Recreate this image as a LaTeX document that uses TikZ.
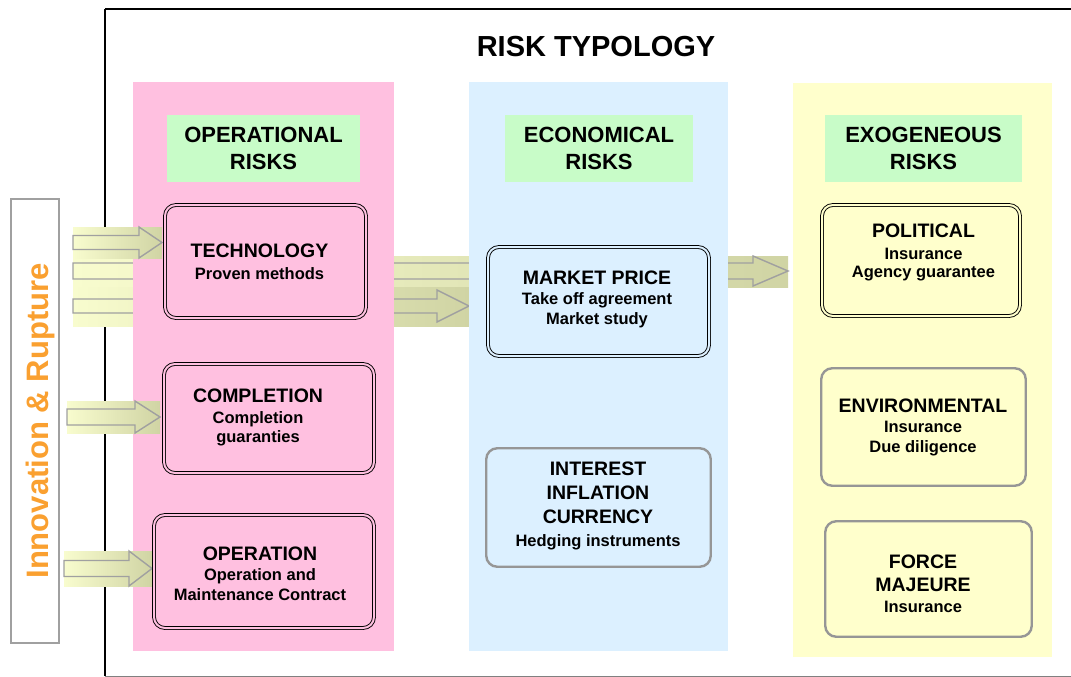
\documentclass[tikz,border=0pt]{standalone}
\usepackage{fontspec}
\setmainfont{Liberation Sans}
\usetikzlibrary{calc}
\definecolor{pinkc}{RGB}{255,192,224}
\definecolor{bluec}{RGB}{220,240,255}
\definecolor{yellowc}{RGB}{255,255,204}
\definecolor{greenc}{RGB}{200,252,200}
\definecolor{arrpale}{RGB}{248,252,206}
\definecolor{arrolive}{RGB}{208,212,164}
\definecolor{arrgray}{RGB}{160,160,160}
\definecolor{boxgray}{RGB}{150,150,150}
\definecolor{orangec}{RGB}{250,160,48}
\newcommand\bxtitle{\fontsize{19.5}{20}\selectfont}
\tikzset{
  dblbox/.style={rectangle, rounded corners=11pt, draw=black, line width=0.9pt,
    double distance=2pt, inner sep=0pt},
  graybox/.style={rectangle, rounded corners=11pt, draw=boxgray, line width=2.4pt, inner sep=0pt},
  boxtxt/.style={align=center, inner sep=0pt, font=\bfseries\fontsize{16.5}{20}\selectfont},
  hdr/.style={fill=greenc, inner sep=0pt, align=center,
    font=\bfseries\fontsize{22}{27}\selectfont},
  arrline/.style={draw=arrgray, line width=1.4pt, line join=miter}
}
% tail, tip, shaft half-width, head half-width, head length, background top, background bottom
\newcommand\blockarrow[7]{%
  \shade[left color=arrpale, right color=arrolive] let \p1=(#1), \p2=(#2) in
    (\x1,{\y1+#6}) rectangle (\x2,{\y1-#7});
  \draw[arrline] let \p1=(#1), \p2=(#2) in
    (\x1,{\y1+#3}) -- ({\x2-#5},{\y1+#3}) -- ({\x2-#5},{\y1+#4}) -- (\x2,\y2)
    -- ({\x2-#5},{\y1-#4}) -- ({\x2-#5},{\y1-#3}) -- (\x1,{\y1-#3}) -- cycle;
}
\begin{document}
\begin{tikzpicture}[x=1pt,y=-1pt]
\clip (0,0) rectangle (1071,677);
\fill[white] (0,0) rectangle (1071,677);
% frame
\draw[black, line width=1.3pt] (105,676) -- (105,9);
\draw[black, line width=1.8pt] (105,9) -- (1080,9);
\draw[gray, line width=1pt] (105,676) -- (1080,676);
% title
\node[font=\bfseries\fontsize{29}{30}\selectfont, inner sep=0pt] (title) at (596,47) {RISK TYPOLOGY};
% arrow coordinates
\coordinate (bS) at (73,271);   \coordinate (bE) at (788,271);
\coordinate (cS) at (73,306);   \coordinate (cE) at (469,306);
\coordinate (aS) at (73,242.5); \coordinate (aE) at (162,242.5);
\coordinate (dS) at (67,417);   \coordinate (dE) at (160,417);
\coordinate (eS) at (64,568.5); \coordinate (eE) at (152,568.5);
% long arrows (behind columns)
\blockarrow{bS}{bE}{8pt}{15pt}{35pt}{15pt}{16pt}
\blockarrow{cS}{cE}{7pt}{16pt}{32pt}{19pt}{20pt}
% columns
\fill[pinkc] (133,82) rectangle (394,651);
\fill[bluec] (469,82) rectangle (728,651);
\fill[yellowc] (793,83) rectangle (1052,657);
% innovation box
\node[draw=arrgray, fill=white, line width=1.5pt, minimum width=48pt, minimum height=444pt, inner sep=0pt] (innovbox) at (35,421) {};
\node[rotate=90, text=orangec, font=\bfseries\fontsize{31}{31}\selectfont, inner sep=0pt] (innov) at (40,421) {Innovation \& Rupture};
% short arrows
\blockarrow{aS}{aE}{7pt}{15.5pt}{23pt}{15.5pt}{15.5pt}
\blockarrow{dS}{dE}{8pt}{16pt}{25pt}{16pt}{16pt}
\blockarrow{eS}{eE}{8pt}{17.5pt}{23pt}{17.5pt}{17.5pt}
% headers
\node[hdr, minimum width=193pt, minimum height=67pt] (ophdr) at (263.5,148.5) {OPERATIONAL\\RISKS};
\node[hdr, minimum width=188pt, minimum height=67pt] (echdr) at (599,148.5) {ECONOMICAL\\RISKS};
\node[hdr, minimum width=197pt, minimum height=67pt] (exhdr) at (923.5,148.5) {EXOGENEOUS\\RISKS};
% boxes
\node[dblbox, double=pinkc, minimum width=201pt, minimum height=113pt] (tech) at (265.5,261.5) {};
\node[boxtxt] (techtxt) at (259.5,261.5) {{\bxtitle TECHNOLOGY}\\[2pt]Proven methods};
\node[dblbox, double=pinkc, minimum width=210pt, minimum height=109pt] (comp) at (269,418.5) {};
\node[boxtxt] (comptxt) at (258,417.5) {{\bxtitle COMPLETION}\\[1pt]Completion\\[-1pt]guaranties};
\node[dblbox, double=pinkc, minimum width=220pt, minimum height=113pt] (oper) at (264,571.5) {};
\node[boxtxt] (opertxt) at (260,573.5) {{\bxtitle OPERATION}\\Operation and\\Maintenance Contract};
\node[dblbox, double=bluec, minimum width=221pt, minimum height=109pt] (market) at (598.5,301.5) {};
\node[boxtxt] (markettxt) at (597,299.5) {{\bxtitle MARKET PRICE}\\Take off agreement\\Market study};
\node[graybox, minimum width=224.5pt, minimum height=118.5pt] (inter) at (598.5,507.5) {};
\node[boxtxt] (intertxt) at (598,506) {{\bxtitle INTEREST}\\[4pt]{\bxtitle INFLATION}\\[4pt]{\bxtitle CURRENCY}\\[3pt]Hedging instruments};
\node[dblbox, double=yellowc, minimum width=198pt, minimum height=111pt] (pol) at (921,260.5) {};
\node[boxtxt] (poltxt) at (923.5,252.5) {{\bxtitle POLITICAL}\\[2pt]Insurance\\[-2pt]Agency guarantee};
\node[graybox, minimum width=204.5pt, minimum height=117.5pt] (env) at (923.5,427) {};
\node[boxtxt] (envtxt) at (923,427.5) {{\bxtitle ENVIRONMENTAL}\\Insurance\\Due diligence};
\node[graybox, minimum width=206.5pt, minimum height=115.5pt] (force) at (928.5,579) {};
\node[boxtxt] (forcetxt) at (923,583.5) {{\bxtitle FORCE}\\[3pt]{\bxtitle MAJEURE}\\[1pt]Insurance};
\end{tikzpicture}
\end{document}
